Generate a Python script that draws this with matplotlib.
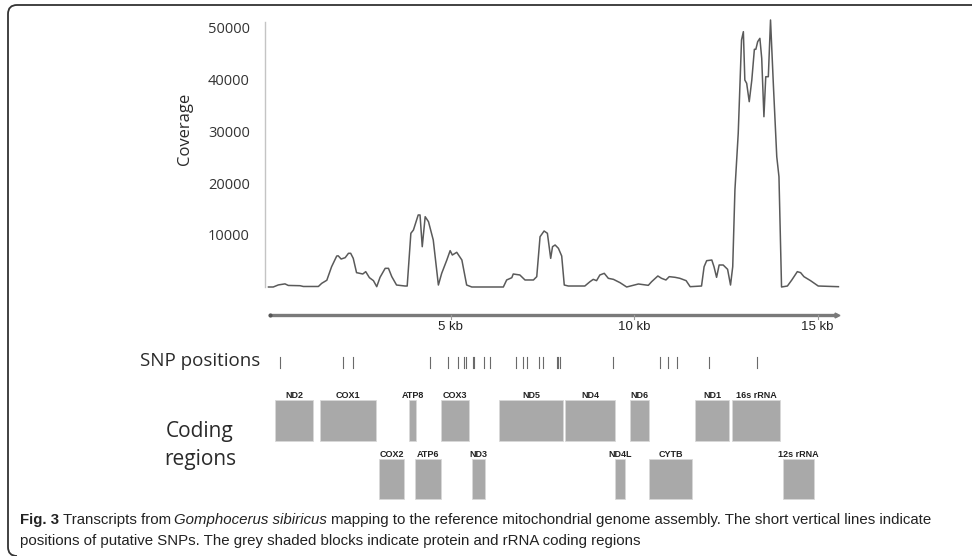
import matplotlib
matplotlib.use("Agg")
import matplotlib.pyplot as plt
from matplotlib.path import Path
from matplotlib.patches import PathPatch, Rectangle

# read depth along the mitogenome (kb, reads)
COV_KB = [0.04, 0.17, 0.31, 0.49, 0.58, 0.90, 0.99, 1.40, 1.49, 1.63, 1.76, 1.90, 1.94,
          2.02, 2.13, 2.22, 2.28, 2.35, 2.44, 2.61, 2.69, 2.79, 2.90, 2.99, 3.08, 3.22,
          3.31, 3.40, 3.53, 3.76, 3.82, 3.92, 3.99, 4.12, 4.17, 4.23, 4.31, 4.40, 4.53,
          4.67, 4.76, 4.90, 4.99, 5.05, 5.17, 5.31, 5.44, 5.58, 6.44, 6.53, 6.67, 6.71,
          6.89, 7.03, 7.26, 7.35, 7.44, 7.55, 7.64, 7.73, 7.78, 7.85, 7.94, 8.03, 8.10,
          8.21, 8.66, 8.80, 8.89, 8.98, 9.07, 9.19, 9.30, 9.44, 9.62, 9.80, 10.12, 10.39,
          10.48, 10.65, 10.75, 10.87, 10.96, 11.12, 11.25, 11.42, 11.53, 11.84, 11.91,
          11.98, 12.12, 12.18, 12.25, 12.32, 12.43, 12.55, 12.63, 12.69, 12.75, 12.84,
          12.93, 12.98, 13.02, 13.07, 13.14, 13.21, 13.28, 13.32, 13.37, 13.43, 13.48,
          13.54, 13.59, 13.66, 13.72, 13.80, 13.89, 13.95, 14.02, 14.18, 14.30, 14.45,
          14.54, 14.63, 14.81, 15.02, 15.57]
COV_DEPTH = [0, 0, 400, 600, 300, 250, 100, 100, 700, 1300, 3900, 5960, 6000,
             5380, 5640, 6480, 6480, 5510, 2760, 2500, 2950, 1800, 1220, 60, 1860, 3590,
             3590, 1990, 380, 190, 190, 10330, 10960, 13850, 13850, 7750, 13520, 12560, 9040,
             380, 2630, 5190, 6990, 6150, 6670, 5190, 380, 0, 0, 1350, 1790, 2500,
             2310, 1350, 1350, 1990, 9670, 10770, 10330, 5510, 7750, 8080, 7440, 5960, 380,
             190, 190, 1020, 1470, 1220, 2310, 2630, 1670, 1470, 830, 0, 580, 320,
             1020, 2120, 1670, 1350, 1990, 1860, 1670, 1220, 60, 190, 3900,
             5060, 5190, 3900, 1860, 4230, 4230, 3400, 380, 3900, 18650, 29550,
             47500, 49100, 39800, 39170, 35640, 39800, 45710, 45710, 47180, 47820, 43980,
             32750, 40440, 40440, 51350, 38520, 25060, 21210, 0, 190, 1350, 2950,
             2760, 1990, 1220, 190, 60]

COV_TICKS = [10000, 20000, 30000, 40000, 50000]
KB_TICKS = [5, 10, 15]
GENOME_KB = 15.53

# putative SNPs (kb)
SNP_KB = [0.35, 2.06, 2.34, 4.44, 4.94, 5.21, 5.38, 5.41, 5.60, 5.63, 5.91, 6.08,
          6.78, 6.97, 7.08, 7.42, 7.53, 7.90, 7.93, 7.98, 9.44, 10.71, 10.93, 11.16,
          12.05, 13.34]

# genes on the upper track: name, start kb, end kb
TOP_GENES = ["ND2", "COX1", "ATP8", "COX3", "ND5", "ND4", "ND6", "ND1", "16s rRNA"]
TOP_START = [0.23, 1.44, 3.88, 4.73, 6.33, 8.13, 9.89, 11.66, 12.67]
TOP_END = [1.26, 2.98, 4.06, 5.51, 8.06, 9.47, 10.42, 12.60, 13.99]
# genes on the lower track
BOT_GENES = ["COX2", "ATP6", "ND3", "ND4L", "CYTB", "12s rRNA"]
BOT_START = [3.05, 4.04, 5.58, 9.47, 10.42, 14.05]
BOT_END = [3.74, 4.73, 5.94, 9.76, 11.57, 14.90]

W, H = 972, 556
fig = plt.figure(figsize=(W / 100, H / 100), dpi=100)


def fbox(x0, y0, x1, y1):
    # pixel box (top-left origin) -> figure fraction rect
    return [x0 / W, 1 - y1 / H, (x1 - x0) / W, (y1 - y0) / H]


XLIM = (-2 / 36.7, 573 / 36.7)

# coverage panel
ax = fig.add_axes(fbox(265, 15, 840, 290))
ax.plot(COV_KB, COV_DEPTH, color="#5a5a5a", lw=1.1)
ax.set_xlim(*XLIM)
ax.set_ylim(-577, 52308)
for s in ["top", "right", "bottom"]:
    ax.spines[s].set_visible(False)
ax.spines["left"].set_color("#c4c4c4")
ax.spines["left"].set_linewidth(1.0)
ax.spines["left"].set_bounds(0, 51000)
ax.set_xticks([])
ax.set_yticks(COV_TICKS)
ax.set_yticklabels([str(t) for t in COV_TICKS], fontfamily="Open Sans",
                   fontsize=10.5, color="#333333")
ax.tick_params(axis="y", length=0, pad=11)
fig.text(185 / W, 1 - 129 / H, "Coverage", rotation=90, ha="center", va="center",
         fontfamily="Open Sans", fontsize=12, color="#2a2a2a")

# genome tracks below
tx = fig.add_axes(fbox(265, 300, 840, 505))
tx.set_xlim(*XLIM)
tx.set_ylim(505, 300)
tx.axis("off")

# kb scale bar
tx.plot([0.08, GENOME_KB], [315, 315], color="#7a7a7a", lw=2.4, solid_capstyle="butt")
tx.plot([GENOME_KB], [315], marker=">", ms=3.5, color="#7a7a7a")
tx.plot([0.08], [315], marker="o", ms=2, color="#555555")
for k in KB_TICKS:
    tx.plot([k, k], [315, 318.5], color="#9a9a9a", lw=0.8)
    tx.text(k, 327, f"{k} kb", ha="center", va="center", fontfamily="Liberation Sans",
            fontsize=9.5, color="#222222")

# SNP ticks
for k in SNP_KB:
    tx.plot([k, k], [357, 367.5], color="#6a6a6a", lw=0.8)
fig.text(140 / W, 1 - 361 / H, "SNP positions", ha="left", va="center",
         fontfamily="Open Sans", fontsize=13.5, color="#2a2a2a")

# coding regions
BOX = "#a9a9a9"
for name, a, b in zip(TOP_GENES, TOP_START, TOP_END):
    tx.add_patch(Rectangle((a, 400), b - a, 40.7, facecolor=BOX, edgecolor="#d8d8d8", lw=0.6))
    tx.text((a + b) / 2, 395, name, ha="center", va="center", fontfamily="Liberation Sans",
            fontweight="bold", fontsize=6.5, color="#222222")
for name, a, b in zip(BOT_GENES, BOT_START, BOT_END):
    tx.add_patch(Rectangle((a, 459), b - a, 40, facecolor=BOX, edgecolor="#d8d8d8", lw=0.6))
    tx.text((a + b) / 2, 454, name, ha="center", va="center", fontfamily="Liberation Sans",
            fontweight="bold", fontsize=6.5, color="#222222")
fig.text(200 / W, 1 - 431 / H, "Coding", ha="center", va="center",
         fontfamily="Open Sans", fontsize=15, color="#2a2a2a")
fig.text(200 / W, 1 - 460 / H, "regions", ha="center", va="center",
         fontfamily="Open Sans", fontsize=15, color="#2a2a2a")

# rounded frame, open on the right
fr = [(972, 5), (17, 5), (8, 5), (8, 14), (8, 547), (8, 556), (17, 556)]
codes = [Path.MOVETO, Path.LINETO, Path.CURVE3, Path.CURVE3, Path.LINETO, Path.CURVE3, Path.CURVE3]
verts = [(x / W, 1 - y / H) for x, y in fr]
fig.add_artist(PathPatch(Path(verts, codes), transform=fig.transFigure, fill=False,
                         edgecolor="#333333", lw=1.3))

# caption
renderer = fig.canvas.get_renderer()
CAP = dict(fontfamily="Liberation Sans", fontsize=10.8, color="#222222", va="center")


def caption_row(x, y, pieces):
    for txt, extra in pieces:
        t = fig.text(x / W, 1 - y / H, txt, **{**CAP, **extra})
        bb = t.get_window_extent(renderer=renderer)
        x = bb.x1 + 3.5


caption_row(20, 520, [("Fig. 3", {"fontweight": "bold"}),
                      ("Transcripts from", {}),
                      ("Gomphocerus sibiricus", {"style": "italic"}),
                      ("mapping to the reference mitochondrial genome assembly. "
                       "The short vertical lines indicate", {})])
caption_row(20, 541, [("positions of putative SNPs. The grey shaded blocks indicate "
                       "protein and rRNA coding regions", {})])

fig.savefig("out.png", dpi=100)
